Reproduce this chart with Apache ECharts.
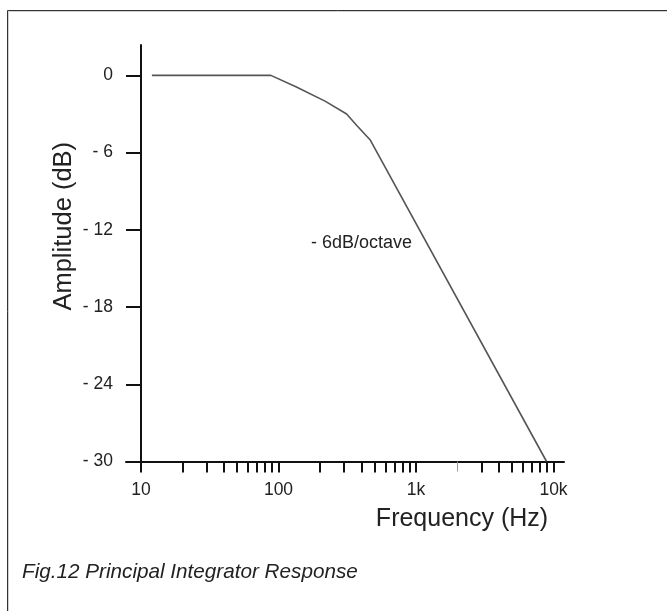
<!DOCTYPE html>
<html>
<head>
<meta charset="utf-8">
<script src="https://cdn.jsdelivr.net/npm/echarts@6/dist/echarts.min.js"></script>
<style>
html,body{margin:0;padding:0;background:#fff;}
#chart{width:667px;height:611px;}
</style>
</head>
<body>
<div id="chart"></div>
<script>
// Data
const frequencies = [12, 88, 135, 218, 313, 371, 463, 8900];
const amplitudes = [0, 0, -0.9, -2.0, -3.0, -3.9, -5.0, -30.0];
const xMajorTicks = [10, 100, 1000, 10000];
const xMajorLabels = ['10', '100', '1k', '10k'];
const xMinorTicks = [20, 30, 40, 50, 60, 70, 80, 90, 200, 300, 400, 500, 600, 700, 800, 900, 3000, 4000, 5000, 6000, 7000, 8000, 9000];
const xGrayTicks = [2000];
const yTicks = [-30, -24, -18, -12, -6, 0];
const annotationText = '- 6dB/octave';
const captionText = 'Fig.12 Principal Integrator Response';
const xName = 'Frequency (Hz)';
const yName = 'Amplitude (dB)';

const FONT = '"Liberation Sans", Arial, Helvetica, sans-serif';
const chart = echarts.init(document.getElementById('chart'), null, {renderer: 'canvas'});

const seriesData = frequencies.map((f, i) => [f, amplitudes[i]]);
const labelMap = {};
xMajorTicks.forEach((v, i) => { labelMap[v] = xMajorLabels[i]; });

const option = {
  animation: false,
  backgroundColor: '#ffffff',
  grid: {left: 126, top: 45, width: 438, height: 416.5, containLabel: false},
  xAxis: [{
    type: 'log',
    logBase: 10,
    min: 7.78,
    max: 11920,
    name: xName,
    nameLocation: 'middle',
    nameGap: 45,
    nameMoveOverlap: false,
    nameTextStyle: {fontFamily: FONT, fontSize: 25, color: '#222', padding: [0, 0, 0, 234]},
    axisLine: {show: true, onZero: false, lineStyle: {color: '#111', width: 2}},
    axisTick: {show: true, length: 11, inside: false, customValues: xMajorTicks.concat(xMinorTicks), lineStyle: {color: '#111', width: 2}},
    axisLabel: {show: true, customValues: xMajorTicks, margin: 20, fontFamily: FONT, fontSize: 17.5, color: '#222',
      formatter: v => labelMap[Math.round(v)] || ''},
    splitLine: {show: false},
    minorTick: {show: false}
  }, {
    type: 'log',
    logBase: 10,
    min: 7.78,
    max: 11920,
    position: 'bottom',
    axisLine: {show: false, onZero: false},
    axisTick: {show: true, length: 10, customValues: xGrayTicks, lineStyle: {color: '#999', width: 1}},
    axisLabel: {show: false},
    splitLine: {show: false}
  }],
  yAxis: {
    type: 'value',
    min: -30,
    max: 2.36,
    offset: -15,
    name: yName,
    nameLocation: 'middle',
    nameGap: 64,
    nameMoveOverlap: false,
    nameTextStyle: {fontFamily: FONT, fontSize: 25.5, color: '#222', padding: [0, 0, 0, 54]},
    axisLine: {show: true, lineStyle: {color: '#111', width: 2}},
    axisTick: {show: true, length: 15, customValues: yTicks, lineStyle: {color: '#111', width: 2}},
    axisLabel: {show: true, customValues: yTicks, margin: 28, fontFamily: FONT, fontSize: 17.5, color: '#222',
      formatter: v => (Math.abs(v) < 1e-9 ? '0' : '- ' + Math.abs(Math.round(v)))},
    splitLine: {show: false}
  },
  series: [{
    type: 'line',
    data: seriesData,
    showSymbol: false,
    symbol: 'none',
    smooth: false,
    lineStyle: {color: '#555', width: 1.6},
    clip: false
  }],
  graphic: [
    {type: 'rect', left: 5, top: 8, silent: true, z: 0,
      shape: {width: 700, height: 700}, style: {fill: null, stroke: '#333', lineWidth: 1}},
    {type: 'rect', left: 6, top: 9, silent: true, z: 0,
      shape: {width: 700, height: 700}, style: {fill: null, stroke: '#d0d0d0', lineWidth: 1}},
    {type: 'text', left: 311, top: 234, silent: true,
      style: {text: annotationText, fontFamily: FONT, fontSize: 18, fill: '#222'}},
    {type: 'text', left: 22, top: 562, silent: true,
      style: {text: captionText, fontFamily: FONT, fontSize: 20.7, fontStyle: 'italic', fill: '#222'}}
  ]
};
chart.setOption(option);
</script>
</body>
</html>
